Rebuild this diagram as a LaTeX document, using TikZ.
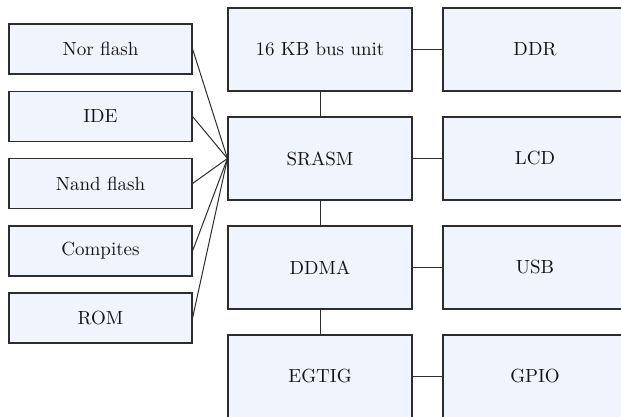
\documentclass[tikz,border=0pt]{standalone}
\usepackage{fontspec}
\setmainfont{lmroman10-regular.otf}
\definecolor{boxfill}{RGB}{240,244,252}
\definecolor{edge}{RGB}{45,45,45}
\definecolor{txt}{RGB}{20,20,20}
\begin{document}
\begin{tikzpicture}[x=1pt,y=-1pt,
  box/.style={draw=edge,fill=boxfill,line width=1.1pt,inner sep=0pt,text=txt,font=\rmfamily\fontsize{19}{23}\selectfont},
  small/.style={box,minimum width=183pt,minimum height=50pt},
  big/.style={box,minimum width=184pt,minimum height=83pt},
  conn/.style={draw=edge,line width=1pt}]
\useasboundingbox (0,0) rectangle (621,417);
\clip (0,0) rectangle (621,417);
\node[small] (nor) at (100.5,49) {Nor flash};
\node[small] (ide) at (100.5,116.5) {IDE};
\node[small] (nand) at (100.5,183.5) {Nand flash};
\node[small] (comp) at (100.5,251) {Compites};
\node[small] (rom) at (100.5,318) {ROM};
\node[big] (bus) at (320,49.5) {16 KB bus unit};
\node[big] (srasm) at (320,158.5) {SRASM};
\node[big] (ddma) at (320,267.5) {DDMA};
\node[big] (egtig) at (320,376.5) {EGTIG};
\node[big] (ddr) at (535,49.5) {DDR};
\node[big] (lcd) at (535,158.5) {LCD};
\node[big] (usb) at (535,267.5) {USB};
\node[big] (gpio) at (535,376.5) {GPIO};
\foreach \n in {nor,ide,nand,comp,rom} \draw[conn] (\n.east) -- (srasm.west);
\draw[conn] (bus) -- (srasm) -- (ddma) -- (egtig);
\draw[conn] (bus) -- (ddr);
\draw[conn] (srasm) -- (lcd);
\draw[conn] (ddma) -- (usb);
\draw[conn] (egtig) -- (gpio);
\end{tikzpicture}
\end{document}
